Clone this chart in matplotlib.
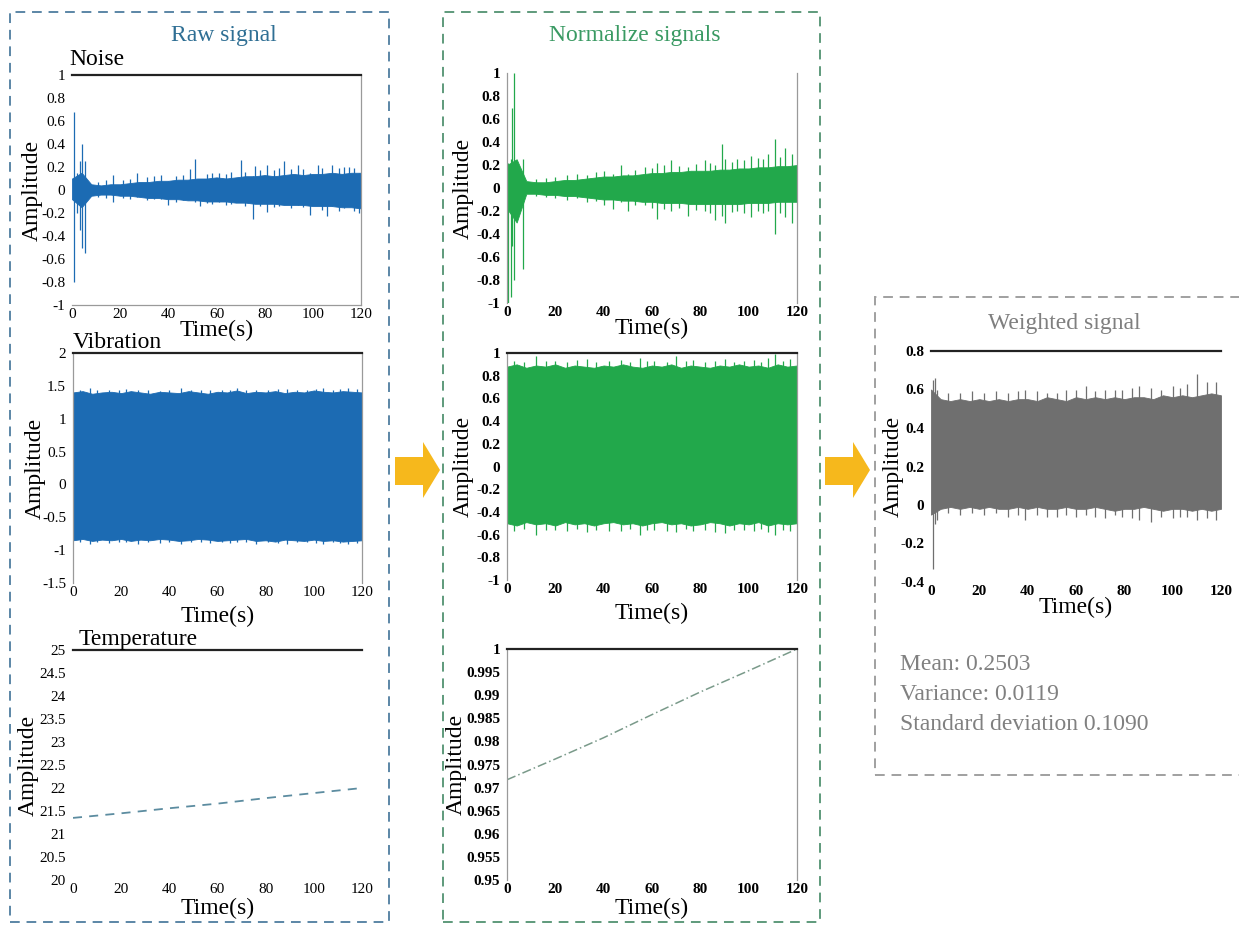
import numpy as np
import matplotlib.pyplot as plt
from matplotlib.patches import Rectangle, Polygon
from matplotlib.ticker import FuncFormatter

plt.rcParams['font.family'] = ['Liberation Serif', 'DejaVu Serif']

W, H = 1239, 925

# envelopes of the dense signals, read every 4 s
t_env = np.arange(0, 121, 4)

raw_noise_hi = [0.10, 0.15, 0.05, 0.04, 0.05, 0.05, 0.06, 0.07, 0.07, 0.08, 0.08, 0.09, 0.09, 0.10, 0.10, 0.11,
                0.10, 0.11, 0.12, 0.12, 0.13, 0.12, 0.13, 0.14, 0.13, 0.14, 0.14, 0.15, 0.14, 0.15, 0.15]
raw_noise_lo = [-0.08, -0.15, -0.05, -0.04, -0.04, -0.05, -0.05, -0.06, -0.07, -0.07, -0.08, -0.08, -0.09, -0.09,
                -0.10, -0.10, -0.10, -0.11, -0.11, -0.12, -0.12, -0.12, -0.13, -0.13, -0.13, -0.14, -0.14, -0.14,
                -0.15, -0.15, -0.16]
raw_noise_spk_t = [0.8, 2.0, 3.2, 4.3, 5.3, 11, 14, 17, 21, 24, 27, 31, 34, 37, 40, 43, 46, 49, 51, 53, 56, 58, 61,
                   64, 66, 70, 72, 75, 76, 78, 81, 84, 86, 88, 91, 94, 96, 99, 102, 104, 106, 108, 111, 113, 115,
                   117, 119]
raw_noise_spk_lo = [-0.80, -0.20, -0.35, -0.50, -0.55, -0.06, -0.07, -0.10, -0.07, -0.08, -0.06, -0.09, -0.08,
                    -0.08, -0.13, -0.10, -0.09, -0.08, -0.10, -0.14, -0.11, -0.12, -0.10, -0.13, -0.12, -0.10,
                    -0.14, -0.25, -0.10, -0.14, -0.19, -0.15, -0.14, -0.12, -0.16, -0.13, -0.15, -0.22, -0.12,
                    -0.17, -0.23, -0.14, -0.18, -0.16, -0.14, -0.18, -0.20]
raw_noise_spk_hi = [0.68, 0.15, 0.25, 0.40, 0.25, 0.07, 0.09, 0.13, 0.09, 0.10, 0.15, 0.11, 0.12, 0.13, 0.08,
                    0.12, 0.13, 0.18, 0.27, 0.10, 0.14, 0.15, 0.15, 0.14, 0.16, 0.26, 0.16, 0.12, 0.21, 0.17, 0.22,
                    0.17, 0.19, 0.25, 0.18, 0.22, 0.18, 0.15, 0.22, 0.19, 0.14, 0.22, 0.19, 0.20, 0.20, 0.19, 0.15]

raw_vib_hi = [1.40, 1.42, 1.38, 1.40, 1.41, 1.39, 1.42, 1.40, 1.38, 1.41, 1.40, 1.39, 1.42, 1.40, 1.38, 1.41,
              1.40, 1.43, 1.39, 1.41, 1.40, 1.42, 1.39, 1.41, 1.40, 1.43, 1.41, 1.40, 1.42, 1.41, 1.40]
raw_vib_lo = [-0.85, -0.83, -0.86, -0.84, -0.85, -0.83, -0.86, -0.84, -0.85, -0.83, -0.84, -0.86, -0.85, -0.83,
              -0.84, -0.86, -0.85, -0.84, -0.83, -0.86, -0.85, -0.87, -0.84, -0.85, -0.86, -0.84, -0.86, -0.85,
              -0.87, -0.86, -0.85]
raw_vib_spk_t = [3, 7, 10, 15, 19, 22, 27, 31, 36, 40, 45, 49, 53, 57, 62, 65, 68, 72, 76, 81, 85, 89, 93, 97, 101,
                 104, 108, 111, 114, 118]
raw_vib_spk_lo = [-0.88, -0.90, -0.87, -0.89, -0.87, -0.88, -0.90, -0.87, -0.89, -0.88, -0.90, -0.87, -0.88, -0.89,
                  -0.87, -0.89, -0.88, -0.87, -0.90, -0.88, -0.89, -0.90, -0.88, -0.87, -0.89, -0.90, -0.88, -0.89,
                  -0.91, -0.89]
raw_vib_spk_hi = [1.44, 1.46, 1.43, 1.44, 1.43, 1.45, 1.43, 1.44, 1.42, 1.44, 1.46, 1.43, 1.44, 1.43, 1.44, 1.43,
                  1.47, 1.44, 1.43, 1.44, 1.45, 1.45, 1.43, 1.44, 1.45, 1.46, 1.44, 1.45, 1.47, 1.45]

raw_temp_t = [0, 20, 40, 60, 80, 100, 120]
raw_temp = [21.35, 21.45, 21.56, 21.66, 21.78, 21.89, 22.0]

norm_noise_hi = [0.20, 0.25, 0.06, 0.05, 0.05, 0.06, 0.07, 0.07, 0.08, 0.09, 0.10, 0.10, 0.11, 0.11, 0.12, 0.13,
                 0.13, 0.14, 0.14, 0.15, 0.15, 0.15, 0.16, 0.16, 0.17, 0.17, 0.18, 0.18, 0.19, 0.19, 0.20]
norm_noise_lo = [-0.18, -0.30, -0.05, -0.05, -0.06, -0.06, -0.07, -0.07, -0.08, -0.09, -0.10, -0.10, -0.11, -0.11,
                 -0.12, -0.12, -0.13, -0.13, -0.13, -0.14, -0.14, -0.14, -0.14, -0.14, -0.14, -0.13, -0.13, -0.13,
                 -0.12, -0.12, -0.12]
norm_noise_spk_t = [0.5, 1.5, 2.2, 3.0, 6.5, 12, 16, 20, 25, 29, 33, 37, 40, 44, 47, 50, 53, 57, 60, 62, 65, 68, 71,
                    75, 78, 82, 84, 86, 89, 90, 93, 95, 98, 101, 104, 106, 108, 111, 113, 115, 118]
norm_noise_spk_lo = [-1.0, -0.95, -0.5, -0.8, -0.7, -0.07, -0.08, -0.09, -0.10, -0.09, -0.12, -0.11, -0.15, -0.18,
                     -0.12, -0.20, -0.15, -0.15, -0.17, -0.27, -0.18, -0.20, -0.17, -0.24, -0.19, -0.20, -0.22,
                     -0.28, -0.24, -0.30, -0.21, -0.20, -0.22, -0.25, -0.20, -0.22, -0.20, -0.40, -0.22, -0.25,
                     -0.30]
norm_noise_spk_hi = [0.22, 0.25, 0.70, 1.0, 0.25, 0.08, 0.09, 0.10, 0.11, 0.12, 0.11, 0.14, 0.15, 0.12, 0.20, 0.12,
                     0.16, 0.18, 0.17, 0.22, 0.20, 0.24, 0.19, 0.18, 0.21, 0.24, 0.22, 0.20, 0.38, 0.25, 0.23,
                     0.25, 0.24, 0.28, 0.26, 0.25, 0.30, 0.43, 0.27, 0.35, 0.30]

norm_vib_hi = [0.88, 0.90, 0.87, 0.89, 0.88, 0.90, 0.87, 0.89, 0.88, 0.87, 0.89, 0.88, 0.90, 0.88, 0.87, 0.89,
               0.88, 0.90, 0.87, 0.89, 0.88, 0.87, 0.89, 0.88, 0.90, 0.88, 0.89, 0.87, 0.90, 0.88, 0.89]
norm_vib_lo = [-0.50, -0.52, -0.49, -0.51, -0.50, -0.52, -0.49, -0.51, -0.50, -0.52, -0.50, -0.49, -0.51, -0.50,
               -0.52, -0.50, -0.49, -0.51, -0.50, -0.52, -0.51, -0.49, -0.50, -0.52, -0.50, -0.51, -0.49, -0.52,
               -0.50, -0.51, -0.50]
norm_vib_spk_t = [3, 7, 12, 16, 20, 25, 29, 33, 37, 42, 47, 51, 55, 58, 61, 66, 70, 74, 77, 82, 86, 90, 94, 98,
                  102, 105, 108, 111, 114, 117]
norm_vib_spk_lo = [-0.57, -0.55, -0.60, -0.56, -0.56, -0.57, -0.55, -0.58, -0.56, -0.57, -0.57, -0.55, -0.60,
                   -0.56, -0.56, -0.57, -0.58, -0.55, -0.57, -0.56, -0.58, -0.59, -0.56, -0.56, -0.57, -0.55,
                   -0.58, -0.60, -0.56, -0.57]
norm_vib_spk_hi = [0.93, 0.92, 0.97, 0.93, 0.93, 0.92, 0.94, 0.95, 0.92, 0.93, 0.94, 0.92, 0.96, 0.93, 0.93, 0.92,
                   0.97, 0.93, 0.94, 0.92, 0.93, 0.95, 0.92, 0.93, 0.94, 0.92, 0.96, 0.99, 0.93, 0.95]

norm_temp_t = [0, 20, 40, 60, 80, 100, 120]
norm_temp = [0.9717, 0.9762, 0.9808, 0.9858, 0.9907, 0.9953, 1.0]

wsig_hi = [0.60, 0.55, 0.54, 0.55, 0.54, 0.55, 0.54, 0.55, 0.54, 0.55, 0.55, 0.54, 0.56, 0.55, 0.54, 0.56,
           0.55, 0.56, 0.55, 0.56, 0.55, 0.56, 0.56, 0.55, 0.57, 0.56, 0.57, 0.56, 0.57, 0.58, 0.57]
wsig_lo = [-0.05, -0.02, -0.01, -0.02, -0.01, -0.02, -0.01, -0.02, -0.02, -0.01, -0.02, -0.01, -0.02, -0.02,
           -0.01, -0.02, -0.02, -0.01, -0.02, -0.03, -0.02, -0.02, -0.01, -0.02, -0.03, -0.02, -0.02, -0.03,
           -0.02, -0.03, -0.02]
wsig_spk_t = [0.8, 1.5, 2.5, 7, 12, 17, 22, 27, 32, 36, 39, 44, 48, 52, 56, 60, 64, 68, 72, 76, 79, 83, 86, 91, 95,
              100, 103, 106, 110, 114, 118]
wsig_spk_lo = [-0.33, -0.10, -0.08, -0.04, -0.05, -0.04, -0.05, -0.04, -0.06, -0.05, -0.08, -0.05, -0.06, -0.06,
               -0.05, -0.06, -0.05, -0.06, -0.07, -0.05, -0.06, -0.07, -0.08, -0.09, -0.06, -0.07, -0.06, -0.06,
               -0.08, -0.07, -0.08]
wsig_spk_hi = [0.65, 0.66, 0.60, 0.58, 0.58, 0.59, 0.58, 0.59, 0.58, 0.59, 0.60, 0.59, 0.58, 0.58, 0.60, 0.60,
               0.62, 0.59, 0.60, 0.60, 0.60, 0.61, 0.62, 0.61, 0.60, 0.62, 0.61, 0.63, 0.68, 0.64, 0.64]

stats = ['Mean: 0.2503', 'Variance: 0.0119', 'Standard deviation 0.1090']

BLUE = '#1c6bb3'
GREEN = '#22a84b'
GRAY = '#6f6f6f'

fig = plt.figure(figsize=(W / 100, H / 100), dpi=100)
fmt = FuncFormatter(lambda v, _: f'{round(v, 4) + 0.0:g}')


def px(x, y):
    return x / W, 1 - y / H


def make_ax(l, t, r, b, ylim, yticks, spines, xlab_y, ylab_x, bold=False):
    ax = fig.add_axes([l / W, 1 - b / H, (r - l) / W, (b - t) / H])
    ax.set_xlim(0, 120)
    ax.set_ylim(*ylim)
    ax.set_xticks(range(0, 121, 20))
    ax.set_yticks(np.round(yticks, 4) + 0.0)
    ax.xaxis.set_major_formatter(fmt)
    ax.yaxis.set_major_formatter(fmt)
    ax.tick_params(length=0, labelsize=11, pad=5)
    ax.tick_params(axis='x', pad=2)
    if bold:
        for lab in ax.get_xticklabels() + ax.get_yticklabels():
            lab.set_fontweight('bold')
    for name, sp in ax.spines.items():
        if name == 'top' and name in spines:
            sp.set_color('#222222')
            sp.set_linewidth(1.6)
        elif name in spines:
            sp.set_color('#9a9a9a')
            sp.set_linewidth(0.9)
        else:
            sp.set_visible(False)
    ax.set_xlabel('Time(s)', fontsize=17, va='center')
    ax.xaxis.set_label_coords(0.5, (b - xlab_y) / (b - t))
    ax.set_ylabel('Amplitude', fontsize=17, va='center')
    ax.yaxis.set_label_coords((ylab_x - l) / (r - l), 0.5)
    return ax


def dense(ax, hi, lo, st, slo, shi, color):
    ax.fill_between(t_env, lo, hi, color=color, linewidth=0.6, edgecolor=color)
    ax.vlines(st, slo, shi, color=color, linewidth=0.9)


# dashed group boxes
for (x0, y0, x1, y1, c) in [(10, 12, 389, 922, '#5b86a6'), (443, 12, 820, 922, '#5e9a7b'),
                            (875, 297, 1250, 775, '#a0a0a0')]:
    fig.add_artist(Rectangle(px(x0, y1), (x1 - x0) / W, (y1 - y0) / H, transform=fig.transFigure,
                             fill=False, edgecolor=c, linewidth=1.4, linestyle=(0, (5, 3.5))))

# arrows
for x0 in (395, 825):
    pts = [px(x0, 457), px(x0 + 28, 457), px(x0 + 28, 442), px(x0 + 45, 470),
           px(x0 + 28, 498), px(x0 + 28, 485), px(x0, 485)]
    fig.add_artist(Polygon(pts, closed=True, transform=fig.transFigure, facecolor='#f6b81c', edgecolor='none'))

# group titles
fig.text(*px(224, 35), 'Raw signal', fontsize=17, color='#2f6f94', ha='center', va='center')
fig.text(*px(635, 35), 'Normalize signals', fontsize=17, color='#3a9a63', ha='center', va='center')
fig.text(*px(1064, 323), 'Weighted signal', fontsize=17, color='#7f7f7f', ha='center', va='center')

# raw signals
ax = make_ax(72, 75, 361, 305, (-1, 1), np.arange(-1, 1.01, 0.2), ['top', 'bottom', 'right'], 330, 32)
dense(ax, raw_noise_hi, raw_noise_lo, raw_noise_spk_t, raw_noise_spk_lo, raw_noise_spk_hi, BLUE)
ax.text(-0.01, 1.02, 'Noise', transform=ax.transAxes, fontsize=17, ha='left', va='bottom')

ax = make_ax(73, 353, 362, 583, (-1.5, 2), np.arange(-1.5, 2.01, 0.5), ['top', 'left', 'right'], 616, 35)
dense(ax, raw_vib_hi, raw_vib_lo, raw_vib_spk_t, raw_vib_spk_lo, raw_vib_spk_hi, BLUE)
ax.text(0.0, 1.0, 'Vibration', transform=ax.transAxes, fontsize=17, ha='left', va='bottom')

ax = make_ax(73, 650, 362, 880, (20, 25), np.arange(20, 25.01, 0.5), ['top'], 908, 28)
ax.plot(raw_temp_t, raw_temp, color='#5c8ca0', linewidth=1.3, linestyle=(0, (5, 4)))
ax.text(0.02, 1.0, 'Temperature', transform=ax.transAxes, fontsize=17, ha='left', va='bottom')

# normalized signals
ax = make_ax(507, 73, 797, 303, (-1, 1), np.arange(-1, 1.01, 0.2), ['left', 'right'], 328, 463, bold=True)
dense(ax, norm_noise_hi, norm_noise_lo, norm_noise_spk_t, norm_noise_spk_lo, norm_noise_spk_hi, GREEN)

ax = make_ax(507, 353, 797, 580, (-1, 1), np.arange(-1, 1.01, 0.2), ['top', 'left', 'right'], 613, 463, bold=True)
dense(ax, norm_vib_hi, norm_vib_lo, norm_vib_spk_t, norm_vib_spk_lo, norm_vib_spk_hi, GREEN)

ax = make_ax(507, 649, 797, 880, (0.95, 1), np.arange(0.95, 1.0001, 0.005), ['top', 'left', 'right'], 908, 456,
             bold=True)
ax.plot(norm_temp_t, norm_temp, color='#7a9a8a', linewidth=1.1, linestyle=(0, (6, 2, 1, 2)))

# weighted signal
ax = make_ax(931, 351, 1221, 582, (-0.4, 0.8), np.arange(-0.4, 0.81, 0.2), ['top'], 607, 893, bold=True)
dense(ax, wsig_hi, wsig_lo, wsig_spk_t, wsig_spk_lo, wsig_spk_hi, GRAY)

for i, s in enumerate(stats):
    fig.text(*px(900, 665 + 30 * i), s, fontsize=17, color='#808080', ha='left', va='center')

fig.savefig('out.png', dpi=100)
